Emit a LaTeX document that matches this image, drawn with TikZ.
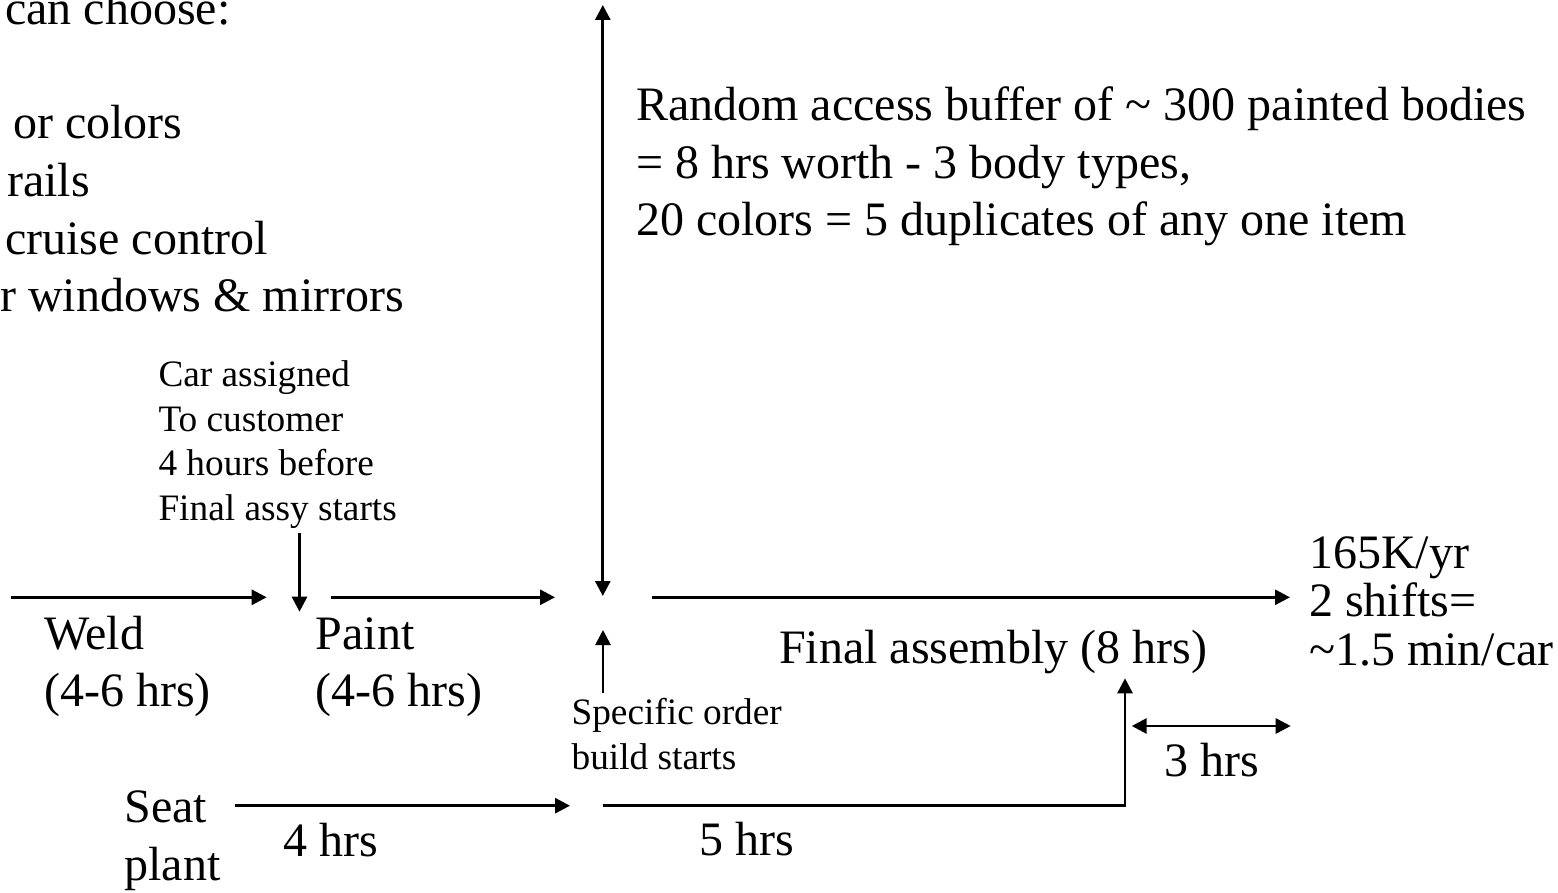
\documentclass[tikz,border=0pt]{standalone}
\usepackage{fontspec}
\setmainfont{Liberation Serif}
\usetikzlibrary{arrows.meta}
\begin{document}
\begin{tikzpicture}[x=1pt,y=-1pt,
  big/.style={font=\fontsize{48}{57.5}\selectfont, inner sep=0pt, anchor=base west, align=left},
  tight/.style={font=\fontsize{48}{48.3}\selectfont, inner sep=0pt, anchor=base west, align=left},
  small/.style={font=\fontsize{37.3}{44.8}\selectfont, inner sep=0pt, anchor=base west, align=left},
  flow/.style={line width=2.8pt, -{Triangle[length=15pt,width=15pt]}},
  both/.style={line width=2.8pt, {Triangle[length=15pt,width=15pt]}-{Triangle[length=15pt,width=15pt]}}]
\useasboundingbox (0,0) rectangle (1558,893);
\clip (0,0) rectangle (1558,893);

% option list (runs past the left edge)
\node[big] (choose)  at (5,25)      {can choose:};
\node[big] (colors)  at (13,138.3)  {or colors};
\node[big] (rails)   at (7,196.7)   {rails};
\node[big] (cruise)  at (5,255)     {cruise control};
\node[big] (windows) at (0,311.7)   {r windows \& mirrors};

% buffer description (multi-line nodes are placed by their last baseline)
\node[big] (buffer) at (636,236)
  {Random access buffer of \textasciitilde\ 300 painted bodies\\
   = 8 hrs worth - 3 body types,\\
   20 colors = 5 duplicates of any one item};

% stations and notes
\node[small] (assign) at (158.3,520.7)
  {Car assigned\\To customer\\4 hours before\\Final assy starts};
\node[big] (weld)  at (44,706.7)    {Weld\\(4-6 hrs)};
\node[big] (paint) at (315.7,706.7) {Paint\\(4-6 hrs)};
\node[big] (final) at (779,663.3)   {Final assembly (8 hrs)};
\node[small] (order) at (571.4,769.3) {Specific order\\build starts};
\node[big] (seat)  at (124.4,880)   {Seat\\plant};
\node[big] (four)  at (283.2,856.7) {4 hrs};
\node[big] (five)  at (699.4,855)   {5 hrs};
\node[big] (three) at (1164,776.7)  {3 hrs};
\node[tight] (rate) at (1309,665)
  {165K/yr\\2 shifts=\\\textasciitilde1.5 min/car};

% connector end points
\coordinate (weldA)   at (11,597.3);
\coordinate (weldB)   at (266.7,597.3);
\coordinate (assignA) at (299.5,533);
\coordinate (assignB) at (299.5,611.7);
\coordinate (paintA)  at (331,597.3);
\coordinate (paintB)  at (555,597.3);
\coordinate (bufLow)  at (602.8,596);
\coordinate (bufTop)  at (602.8,5);
\coordinate (orderA)  at (603,692.7);
\coordinate (orderB)  at (603,630);
\coordinate (finalA)  at (652,597.3);
\coordinate (finalB)  at (1290,597.3);
\coordinate (seatA)   at (235.4,805.7);
\coordinate (seatB)   at (570,805.7);
\coordinate (feedA)   at (602.8,805.7);
\coordinate (feedB)   at (1125,678.3);
\coordinate (gapA)    at (1131.7,726);
\coordinate (gapB)    at (1290.7,726);

% connectors
\draw[flow] (weldA) -- (weldB);
\draw[flow] (assignA) -- (assignB);
\draw[flow] (paintA) -- (paintB);
\draw[both] (bufLow) -- (bufTop);
\draw[flow] (orderA) -- (orderB);
\draw[flow] (finalA) -- (finalB);
\draw[flow] (seatA) -- (seatB);
\draw[flow] (feedA) -| (feedB);
\draw[both] (gapA) -- (gapB);
\end{tikzpicture}
\end{document}
